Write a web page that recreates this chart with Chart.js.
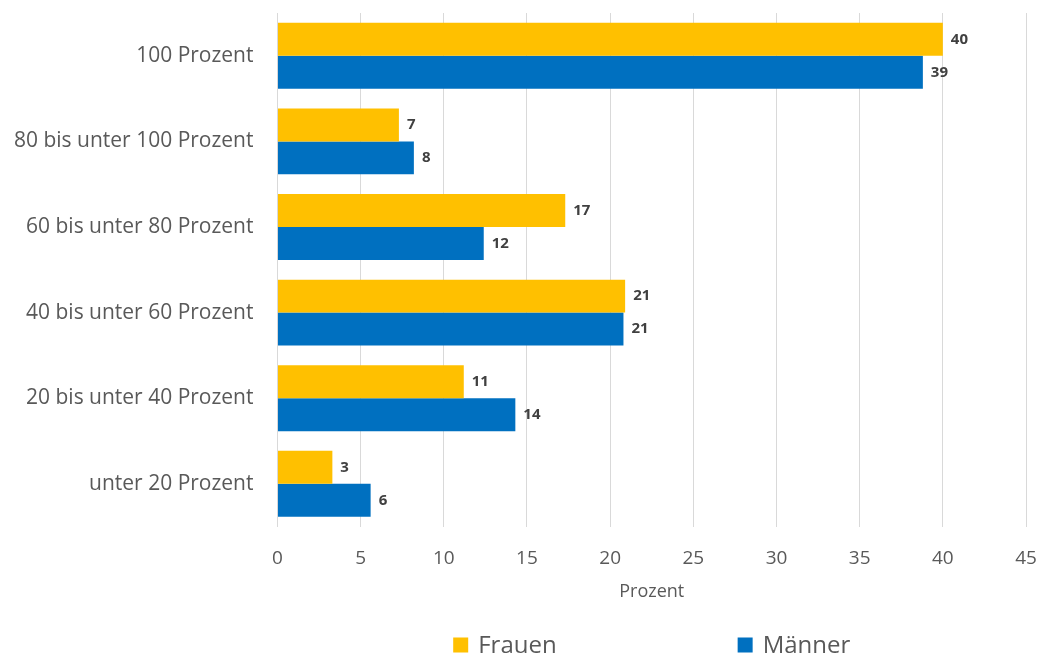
<!DOCTYPE html>
<html>
<head>
<meta charset="utf-8">
<script src="https://cdn.jsdelivr.net/npm/chart.js@4"></script>
<style>
  html, body { margin: 0; padding: 0; background: #fff; }
  #wrap { width: 1040px; height: 655px; }
</style>
</head>
<body>
<div id="wrap"><canvas id="anteilChart"></canvas></div>
<script>
var kategorien = ['100 Prozent', '80 bis unter 100 Prozent', '60 bis unter 80 Prozent',
    '40 bis unter 60 Prozent', '20 bis unter 40 Prozent', 'unter 20 Prozent'];
var frauen = [40.0, 7.3, 17.3, 20.9, 11.2, 3.3];
var maenner = [38.8, 8.2, 12.4, 20.8, 14.3, 5.6];
var xTicks = [0, 5, 10, 15, 20, 25, 30, 35, 40, 45];

// Werte gerundet rechts neben die Balken schreiben
var wertLabels = {
    id: 'wertLabels',
    afterDatasetsDraw: function (chart) {
        var ctx = chart.ctx;
        ctx.save();
        ctx.font = 'bold 15px "Open Sans"';
        ctx.fillStyle = '#404040';
        ctx.textBaseline = 'middle';
        ctx.textAlign = 'left';
        chart.data.datasets.forEach(function (ds, i) {
            chart.getDatasetMeta(i).data.forEach(function (bar, j) {
                ctx.fillText(Math.round(ds.data[j]), bar.x + 8, bar.y);
            });
        });
        ctx.restore();
    }
};

// Legende unten, breit auseinander, zentriert unter der Zeichenflaeche
var legendeUnten = {
    id: 'legendeUnten',
    afterDraw: function (chart) {
        var ctx = chart.ctx;
        var area = chart.chartArea;
        var box = 15, gap = 10, abstand = 181, y = 645;
        ctx.save();
        ctx.font = '24px "Open Sans"';
        ctx.textBaseline = 'middle';
        ctx.textAlign = 'left';
        var items = chart.data.datasets.map(function (ds) {
            return { text: ds.label, color: ds.backgroundColor, w: box + gap + ctx.measureText(ds.label).width };
        });
        var total = items.reduce(function (s, it) { return s + it.w; }, 0) + abstand * (items.length - 1);
        var x = (area.left + area.right) / 2 - total / 2;
        items.forEach(function (it) {
            ctx.fillStyle = it.color;
            ctx.fillRect(x, y - box / 2, box, box);
            ctx.fillStyle = '#595959';
            ctx.fillText(it.text, x + box + gap, y + 1);
            x += it.w + abstand;
        });
        ctx.restore();
    }
};

// Chart.js rechnet das Tick-Padding doppelt ein und polstert die Raender -> zuruecknehmen
function ohneRandPadding(scale) {
    scale.paddingTop = 0;
    scale.paddingBottom = 0;
    scale.paddingLeft = 0;
    scale.paddingRight = 0;
    var pad = scale.options.ticks.padding;
    if (scale.isHorizontal()) {
        scale.height -= pad;
    } else {
        scale.width -= pad;
    }
}

var ctx = document.getElementById('anteilChart').getContext('2d');
var anteilChart = new Chart(ctx, {
    type: 'bar',
    data: {
        labels: kategorien,
        datasets: [{
            label: 'Frauen',
            data: frauen,
            backgroundColor: '#FFC000',
            barPercentage: 1,
            categoryPercentage: 0.77
        }, {
            label: 'Männer',
            data: maenner,
            backgroundColor: '#0070C0',
            barPercentage: 1,
            categoryPercentage: 0.77
        }]
    },
    options: {
        indexAxis: 'y',
        responsive: true,
        maintainAspectRatio: false,
        animation: false,
        layout: { padding: { left: 14, right: 14, top: 13, bottom: 52 } },
        scales: {
            x: {
                min: 0,
                max: 45,
                afterBuildTicks: function (axis) {
                    axis.ticks = xTicks.map(function (v) { return { value: v }; });
                },
                afterFit: ohneRandPadding,
                grid: { color: '#d9d9d9', lineWidth: 1, drawTicks: false },
                border: { display: false },
                ticks: { color: '#595959', font: { family: 'Open Sans', size: 19 }, padding: 21 },
                title: {
                    display: true,
                    text: 'Prozent',
                    color: '#595959',
                    font: { family: 'Open Sans', size: 18 },
                    padding: { top: 11, bottom: 0 }
                }
            },
            y: {
                afterFit: ohneRandPadding,
                grid: { display: false, drawTicks: false },
                border: { display: false },
                ticks: { color: '#595959', font: { family: 'Open Sans', size: 21 }, padding: 24 }
            }
        },
        plugins: {
            legend: { display: false },
            tooltip: { enabled: false }
        }
    },
    plugins: [wertLabels, legendeUnten]
});
</script>
</body>
</html>
